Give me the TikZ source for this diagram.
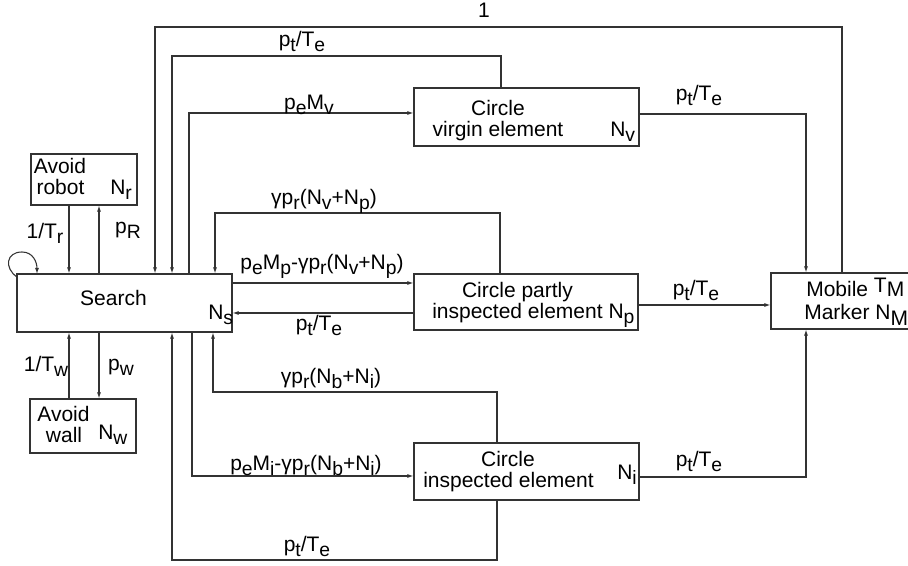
\documentclass[tikz,border=0pt]{standalone}
\usepackage{fontspec}
\setmainfont{Liberation Sans}
\usetikzlibrary{arrows.meta}
\newcommand\lo[1]{\raisebox{-3.5pt}{\fontsize{14.5}{14.5}\selectfont #1}}
\begin{document}
\begin{tikzpicture}[x=0.75pt,y=-0.75pt,
  every node/.style={font=\fontsize{15.75}{16.5}\selectfont, inner sep=0pt},
  box/.style={draw=black!80, line width=0.8pt, inner sep=0pt},
  wire/.style={draw=black!80, line width=0.8pt},
  arr/.style={wire, -{Latex[length=4.5pt,width=3pt]}},
  txt/.style={anchor=base},
  txtw/.style={anchor=base west}]
\useasboundingbox (0,0) rectangle (908,566);

% boxes
\node[box, minimum width=79.5pt, minimum height=38.25pt] (robot) at (84,179.5) {};
\node[box, minimum width=161.25pt, minimum height=43.5pt] (search) at (124.5,303) {};
\node[box, minimum width=79.5pt, minimum height=40.5pt] (wall) at (83,426) {};
\node[box, minimum width=168.75pt, minimum height=43.5pt] (virgin) at (526.5,117) {};
\node[box, minimum width=168pt, minimum height=42pt] (partly) at (526,302) {};
\node[box, minimum width=168.75pt, minimum height=42.75pt] (insp) at (526.5,471.5) {};
\node[box, minimum width=119.25pt, minimum height=42pt] (mobile) at (850.5,301) {};

% box texts
\node[txt] (robotA) at (60,174) {Avoid};
\node[txt] (robotB) at (60.5,195) {robot};
\node[txtw] (robotN) at (110,195) {N\lo{r}};
\node[txt] (searchT) at (113.5,306) {Search};
\node[txtw] (searchN) at (208,320) {N\lo{s}};
\node[txt] (wallA) at (63.5,422) {Avoid};
\node[txt] (wallB) at (64,443) {wall};
\node[txtw] (wallN) at (98,440) {N\lo{w}};
\node[txt] (virginA) at (498,116) {Circle};
\node[txt] (virginB) at (498,137) {virgin element};
\node[txtw] (virginN) at (610,137) {N\lo{v}};
\node[txt] (partlyA) at (517.5,298) {Circle partly};
\node[txtw] (partlyB) at (432,319) {inspected element N\lo{p}};
\node[txt] (inspA) at (508,467) {Circle};
\node[txt] (inspB) at (508.5,488) {inspected element};
\node[txtw] (inspN) at (617,480) {N\lo{i}};
\node[txtw] (mobA) at (806,297) {Mobile \raisebox{3pt}{T}M};
\node[txtw] (mobB) at (804,320) {Marker N\raisebox{-4pt}{M}};

% connectors
\draw[arr] (69,0 |- robot.south) -- (69,0 |- search.north);
\draw[arr] (99,0 |- search.north) -- (99,0 |- robot.south);
\draw[arr] (69,0 |- wall.north) -- (69,0 |- search.south);
\draw[arr] (99,0 |- search.south) -- (99,0 |- wall.north);
\coordinate (loopS) at (17,277);
\coordinate (loopE) at (37,274);
\draw[arr] (loopS) .. controls (4,268) and (6,252) .. (22,252) .. controls (33,252) and (37,262) .. (loopE);

\draw[arr] (842,0 |- mobile.north) -- (842,27) -- (155,27) -- (155,0 |- search.north);
\draw[arr] (501,0 |- virgin.north) -- (501,56) -- (172,56) -- (172,0 |- search.north);
\draw[arr] (189,0 |- search.north) -- (189,113) -- (virgin.west |- 0,113);
\draw[arr] (virgin.east |- 0,114) -- (806,114) -- (806,0 |- mobile.north);
\draw[arr] (500,0 |- partly.north) -- (500,213) -- (215,213) -- (215,0 |- search.north);
\draw[arr] (search.east |- 0,283) -- (partly.west |- 0,283);
\draw[arr] (partly.west |- 0,313) -- (search.east |- 0,313);
\draw[arr] (partly.east |- 0,305) -- (mobile.west |- 0,305);
\draw[arr] (497,0 |- insp.north) -- (497,392) -- (213,392) -- (213,0 |- search.south);
\draw[arr] (192,0 |- search.south) -- (192,476) -- (insp.west |- 0,476);
\draw[arr] (497,0 |- insp.south) -- (497,560) -- (172,560) -- (172,0 |- search.south);
\draw[arr] (insp.east |- 0,477) -- (806,477) -- (806,0 |- mobile.south);

% connector labels
\node[txt] (l1) at (484,18) {1};
\node[txt] (l2) at (302,47) {p\lo{t}/T\lo{e}};
\node[txt] (l3) at (309,110) {p\lo{e}M\lo{v}};
\node[txt] (l4) at (699,101) {p\lo{t}/T\lo{e}};
\node[txt] (l5) at (324,205) {γp\lo{r}(N\lo{v}+N\lo{p})};
\node[txt] (l6) at (322,270) {p\lo{e}M\lo{p}-γp\lo{r}(N\lo{v}+N\lo{p})};
\node[txt] (l7) at (319,331) {p\lo{t}/T\lo{e}};
\node[txt] (l8) at (331,384) {γp\lo{r}(N\lo{b}+N\lo{i})};
\node[txt] (l9) at (306,471) {p\lo{e}M\lo{i}-γp\lo{r}(N\lo{b}+N\lo{i})};
\node[txt] (l10) at (307,552) {p\lo{t}/T\lo{e}};
\node[txt] (l11) at (696,296) {p\lo{t}/T\lo{e}};
\node[txt] (l12) at (699,467) {p\lo{t}/T\lo{e}};
\node[txt] (l13) at (45,239) {1/T\lo{r}};
\node[txt] (l14) at (128,234) {p\lo{R}};
\node[txt] (l15) at (46,372) {1/T\lo{w}};
\node[txt] (l16) at (121,371) {p\lo{w}};
\end{tikzpicture}
\end{document}
